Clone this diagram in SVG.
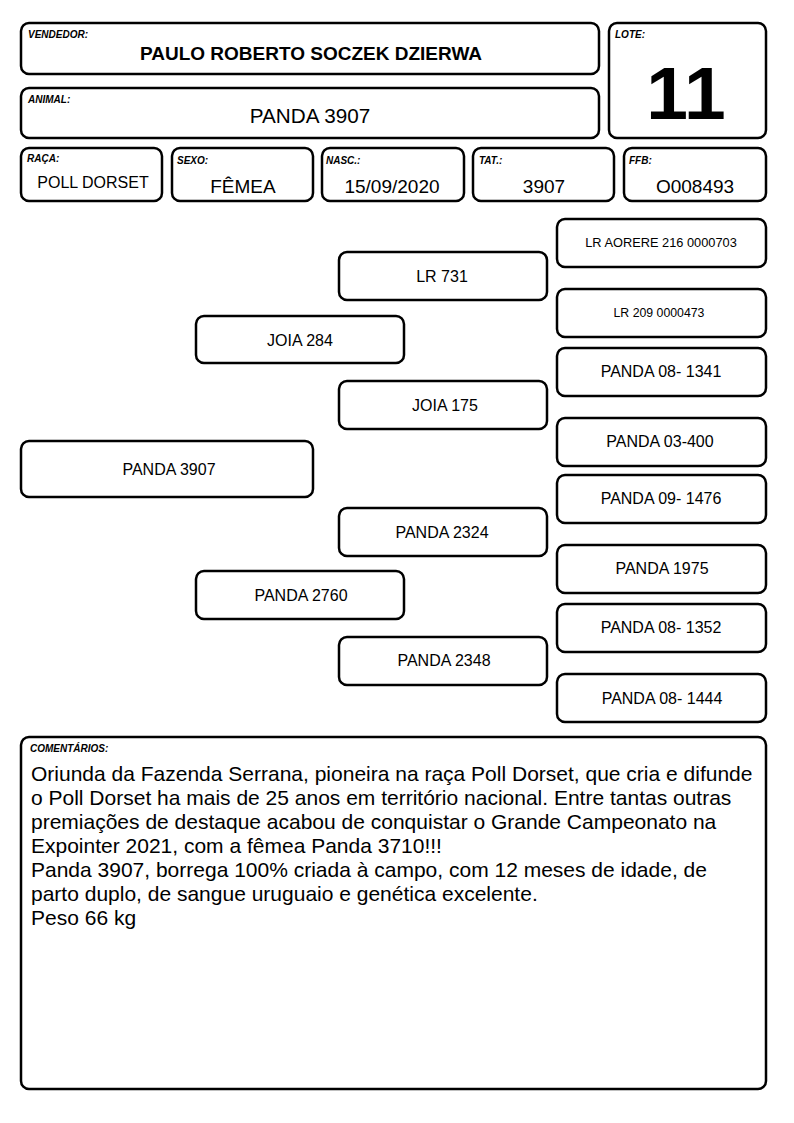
<svg xmlns="http://www.w3.org/2000/svg" width="794" height="1123" viewBox="0 0 794 1123">
<style>
.b{fill:#fff;stroke:#000;stroke-width:2.5}
.lbl{font-family:"Liberation Sans",Arial,sans-serif;font-size:10px;font-weight:bold;font-style:italic}
.t{font-family:"Liberation Sans",Arial,sans-serif;text-anchor:middle}
.p{font-family:"Liberation Sans",Arial,sans-serif;font-size:16px;text-anchor:middle}
.c{font-family:"Liberation Sans",Arial,sans-serif;font-size:21px}
</style>
<rect width="794" height="1123" fill="#fff"/>
<g id="vendedor"><rect class="b" x="21" y="23" width="578" height="51" rx="8"/><text class="lbl" x="28" y="38">VENDEDOR:</text><text class="t" x="311" y="60" font-size="19" font-weight="bold">PAULO ROBERTO SOCZEK DZIERWA</text></g>
<g id="animal"><rect class="b" x="21" y="88" width="578" height="50" rx="8"/><text class="lbl" x="28" y="103">ANIMAL:</text><text class="t" x="310" y="123" font-size="20.7">PANDA 3907</text></g>
<g id="lote"><rect class="b" x="609" y="23" width="157" height="115" rx="8"/><text class="lbl" x="615" y="38">LOTE:</text><text class="t" x="686" y="119" font-size="75" font-weight="bold">11</text></g>
<g id="raca"><rect class="b" x="21" y="148" width="141" height="53" rx="8"/><text class="lbl" x="27" y="162">RAÇA:</text><text class="t" x="93" y="188" font-size="16">POLL DORSET</text></g>
<g id="sexo"><rect class="b" x="172" y="148" width="141" height="53" rx="8"/><text class="lbl" x="177" y="164">SEXO:</text><text class="t" x="243" y="193" font-size="19">FÊMEA</text></g>
<g id="nasc"><rect class="b" x="322" y="148" width="142" height="53" rx="8"/><text class="lbl" x="326" y="164">NASC.:</text><text class="t" x="392" y="193" font-size="19">15/09/2020</text></g>
<g id="tat"><rect class="b" x="473" y="148" width="141" height="53" rx="8"/><text class="lbl" x="479" y="164">TAT.:</text><text class="t" x="544" y="193" font-size="19">3907</text></g>
<g id="ffb"><rect class="b" x="624" y="148" width="142" height="53" rx="8"/><text class="lbl" x="629" y="164">FFB:</text><text class="t" x="695" y="193" font-size="19">O008493</text></g>
<g id="connectors"></g>
<g id="n-aorere"><rect class="b" x="557" y="219" width="209" height="48" rx="8"/><text class="t" x="661" y="247" font-size="12.8">LR AORERE 216 0000703</text></g>
<g id="n-lr731"><rect class="b" x="339" y="252" width="208" height="48" rx="8"/><text class="p" x="442" y="282">LR 731</text></g>
<g id="n-lr209"><rect class="b" x="557" y="289" width="209" height="48" rx="8"/><text class="t" x="659" y="317" font-size="12.3">LR 209 0000473</text></g>
<g id="n-joia284"><rect class="b" x="196" y="316" width="208" height="47" rx="8"/><text class="p" x="300" y="346">JOIA 284</text></g>
<g id="n-p1341"><rect class="b" x="557" y="348" width="209" height="48" rx="8"/><text class="p" x="661" y="377">PANDA 08- 1341</text></g>
<g id="n-joia175"><rect class="b" x="339" y="381" width="208" height="48" rx="8"/><text class="p" x="445" y="411">JOIA 175</text></g>
<g id="n-p400"><rect class="b" x="557" y="418" width="209" height="48" rx="8"/><text class="p" x="660" y="447">PANDA 03-400</text></g>
<g id="n-p3907"><rect class="b" x="21" y="441" width="292" height="56" rx="8"/><text class="p" x="169" y="475">PANDA 3907</text></g>
<g id="n-p1476"><rect class="b" x="557" y="475" width="209" height="48" rx="8"/><text class="p" x="661" y="504">PANDA 09- 1476</text></g>
<g id="n-p2324"><rect class="b" x="339" y="508" width="208" height="48" rx="8"/><text class="p" x="442" y="538">PANDA 2324</text></g>
<g id="n-p1975"><rect class="b" x="557" y="545" width="209" height="48" rx="8"/><text class="p" x="662" y="574">PANDA 1975</text></g>
<g id="n-p2760"><rect class="b" x="196" y="571" width="208" height="48" rx="8"/><text class="p" x="301" y="601">PANDA 2760</text></g>
<g id="n-p1352"><rect class="b" x="557" y="604" width="209" height="48" rx="8"/><text class="p" x="661" y="633">PANDA 08- 1352</text></g>
<g id="n-p2348"><rect class="b" x="339" y="637" width="208" height="48" rx="8"/><text class="p" x="444" y="666">PANDA 2348</text></g>
<g id="n-p1444"><rect class="b" x="557" y="674" width="209" height="48" rx="8"/><text class="p" x="662" y="704">PANDA 08- 1444</text></g>
<g id="comentarios"><rect class="b" x="21" y="737" width="745" height="352" rx="8"/><text class="lbl" x="30" y="752">COMENTÁRIOS:</text>
<text class="c" x="31" y="781">Oriunda da Fazenda Serrana, pioneira na raça Poll Dorset, que cria e difunde</text>
<text class="c" x="31" y="805">o Poll Dorset ha mais de 25 anos em território nacional. Entre tantas outras</text>
<text class="c" x="31" y="829">premiações de destaque acabou de conquistar o Grande Campeonato na</text>
<text class="c" x="31" y="853">Expointer 2021, com a fêmea Panda 3710!!!</text>
<text class="c" x="31" y="877">Panda 3907, borrega 100% criada à campo, com 12 meses de idade, de</text>
<text class="c" x="31" y="901">parto duplo, de sangue uruguaio e genética excelente.</text>
<text class="c" x="31" y="925">Peso 66 kg</text>
</g>
</svg>
